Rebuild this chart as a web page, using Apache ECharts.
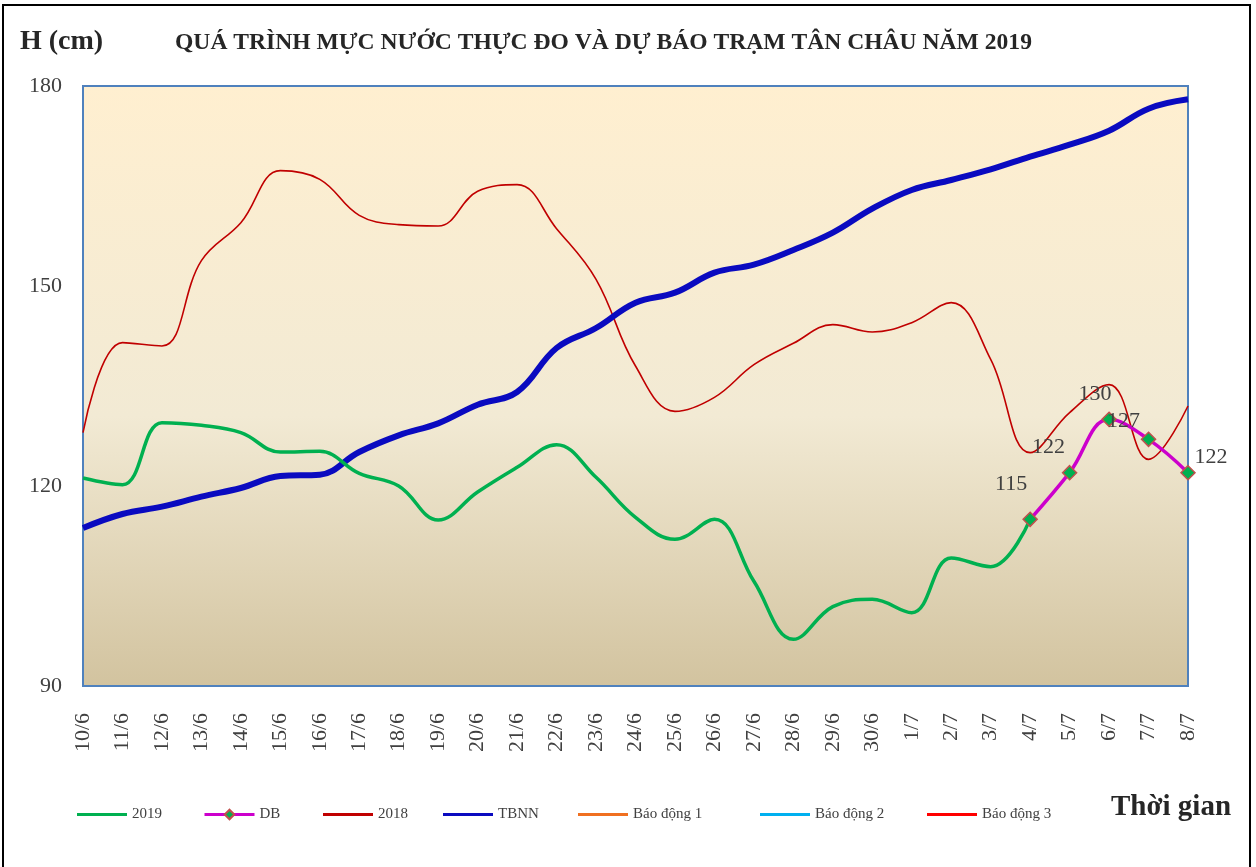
<!DOCTYPE html>
<html>
<head>
<meta charset="utf-8">
<style>
  html, body { margin: 0; padding: 0; background: #fff; }
  #chart { width: 1256px; height: 867px; }
</style>
<script src="https://cdn.jsdelivr.net/npm/echarts@6/dist/echarts.min.js"></script>
</head>
<body>
<div id="chart"></div>
<script>
"use strict";

const SERIF = "'Liberation Serif', 'Times New Roman', serif";

// --- data ---
const dates = [
  "10/6", "11/6", "12/6", "13/6", "14/6", "15/6", "16/6", "17/6", "18/6", "19/6",
  "20/6", "21/6", "22/6", "23/6", "24/6", "25/6", "26/6", "27/6", "28/6", "29/6",
  "30/6", "1/7", "2/7", "3/7", "4/7", "5/7", "6/7", "7/7", "8/7",
];

const h2019 = [
  121.2, 120.2, 129.5, 129.1, 128.0, 125.1, 125.2, 121.9, 120.0, 114.9,
  119.1, 122.8, 126.2, 121.3, 115.3, 112.0, 115.0, 105.7, 97.0, 101.9,
  103.0, 101.0, 109.2, 107.9, 115, null, null, null, null,
];

const forecastDB = [
  null, null, null, null, null, null, null, null, null, null,
  null, null, null, null, null, null, null, null, null, null,
  null, null, null, null, 115, 122, 130, 127, 122,
];

const h2018 = [
  128.0, 141.5, 141.0, 153.8, 159.5, 167.3, 166.0, 160.6, 159.2, 159.0,
  164.2, 165.2, 158.6, 151.0, 138.0, 131.2, 133.3, 138.2, 141.4, 144.2,
  143.1, 144.5, 147.5, 139.0, 125.0, 131.0, 135.2, 124.0, 132.0,
];

const tbnn = [
  113.7, 115.8, 116.9, 118.4, 119.7, 121.5, 121.7, 125.1, 127.6, 129.4,
  132.2, 134.1, 140.7, 143.7, 147.5, 149.0, 152.0, 153.2, 155.4, 158.0,
  161.6, 164.4, 165.9, 167.5, 169.4, 171.2, 173.3, 176.6, 178.0,
];

// alarm levels are far above the axis range, only shown in the legend
const alarm1 = [];
const alarm2 = [];
const alarm3 = [];

// label offsets for the forecast points (4/7 .. 8/7)
const dbLabelOffsets = [[-19, -11], [-21, -2], [-14, -1], [-25, 6], [23, 8]];

const chart = echarts.init(document.getElementById("chart"));

const firstDB = forecastDB.findIndex((x) => x != null);
const dbData = forecastDB.map((v, i) =>
  v == null ? null : { value: v, label: { offset: dbLabelOffsets[i - firstDB] } }
);

/**
 * @param {string} name
 * @param {number} left
 * @param {boolean} [withMarker]
 */
const legendAt = (name, left, withMarker) => ({
  data: [withMarker ? name : { name, icon: "rect" }],
  left,
  top: 802,
  itemWidth: 50,
  itemHeight: withMarker ? 12 : 3,
  itemGap: 0,
  lineStyle: { width: 3 },
  textStyle: {
    fontFamily: SERIF,
    fontSize: 15,
    color: "#404040",
  },
});

const options = {
  backgroundColor: "#fff",
  animation: false,

  graphic: [
    {
      type: "rect",
      shape: { x: 3, y: 5, width: 1247, height: 880 },
      style: { fill: "none", stroke: "#000", lineWidth: 2 },
    },
    {
      type: "text",
      left: 20,
      top: 28,
      style: {
        text: "H (cm)",
        font: `bold 28px ${SERIF}`,
        fill: "#262626",
      },
    },
    {
      type: "text",
      left: 175,
      top: 31,
      style: {
        text: "QUÁ TRÌNH MỰC NƯỚC THỰC ĐO VÀ DỰ BÁO TRẠM TÂN CHÂU NĂM 2019",
        font: `bold 23.6px ${SERIF}`,
        fill: "#262626",
      },
    },
    {
      type: "text",
      left: 1111,
      top: 793,
      style: {
        text: "Thời gian",
        font: `bold 29px ${SERIF}`,
        fill: "#262626",
      },
    },
  ],

  legend: [
    legendAt("2019", 72),
    legendAt("DB", 198, true),
    legendAt("2018", 318),
    legendAt("TBNN", 438),
    legendAt("Báo động 1", 573),
    legendAt("Báo động 2", 755),
    legendAt("Báo động 3", 922),
  ],

  grid: {
    left: 83,
    right: 68,
    top: 86,
    bottom: 181,
    show: true,
    borderColor: "#4F81BD",
    borderWidth: 2,
    backgroundColor: new echarts.graphic.LinearGradient(0, 0, 0, 1, [
      { offset: 0, color: "#FFEFD0" },
      { offset: 0.55, color: "#F2EAD4" },
      { offset: 1, color: "#D2C39F" },
    ]),
  },

  xAxis: {
    type: "category",
    data: dates,
    boundaryGap: false,
    axisLine: { show: false },
    axisTick: { show: false },
    axisLabel: {
      rotate: 90,
      margin: 27,
      interval: 0,
      fontFamily: SERIF,
      fontSize: 22,
      color: "#404040",
    },
  },

  yAxis: {
    type: "value",
    min: 90,
    max: 180,
    interval: 30,
    splitLine: { show: false },
    axisLine: { show: false },
    axisTick: { show: false },
    axisLabel: {
      margin: 21,
      fontFamily: SERIF,
      fontSize: 22,
      color: "#404040",
    },
  },

  series: [
    {
      name: "2018",
      type: "line",
      data: h2018,
      smooth: 0.4,
      symbol: "none",
      lineStyle: { color: "#C00000", width: 1.6 },
      itemStyle: { color: "#C00000" },
      z: 2,
    },
    {
      name: "TBNN",
      type: "line",
      data: tbnn,
      smooth: 0.4,
      symbol: "none",
      lineStyle: { color: "#0A0AC0", width: 6 },
      itemStyle: { color: "#0A0AC0" },
      z: 3,
    },
    {
      name: "2019",
      type: "line",
      data: h2019,
      smooth: 0.4,
      symbol: "none",
      lineStyle: { color: "#00B050", width: 3.5 },
      itemStyle: { color: "#00B050" },
      z: 4,
    },
    {
      name: "DB",
      type: "line",
      data: dbData,
      smooth: 0.4,
      symbol: "diamond",
      symbolSize: 14,
      showAllSymbol: true,
      lineStyle: { color: "#CC00CC", width: 3.5 },
      itemStyle: { color: "#00B050", borderColor: "#C0504D", borderWidth: 1.5 },
      label: {
        show: true,
        position: "top",
        fontFamily: SERIF,
        fontSize: 22,
        color: "#404040",
      },
      z: 5,
    },
    {
      name: "Báo động 1",
      type: "line",
      data: alarm1,
      symbol: "none",
      lineStyle: { color: "#F07020", width: 2 },
      itemStyle: { color: "#F07020" },
    },
    {
      name: "Báo động 2",
      type: "line",
      data: alarm2,
      symbol: "none",
      lineStyle: { color: "#00B0F0", width: 2 },
      itemStyle: { color: "#00B0F0" },
    },
    {
      name: "Báo động 3",
      type: "line",
      data: alarm3,
      symbol: "none",
      lineStyle: { color: "#FF0000", width: 2 },
      itemStyle: { color: "#FF0000" },
    },
  ],
};

chart.setOption(options);
</script>
</body>
</html>
